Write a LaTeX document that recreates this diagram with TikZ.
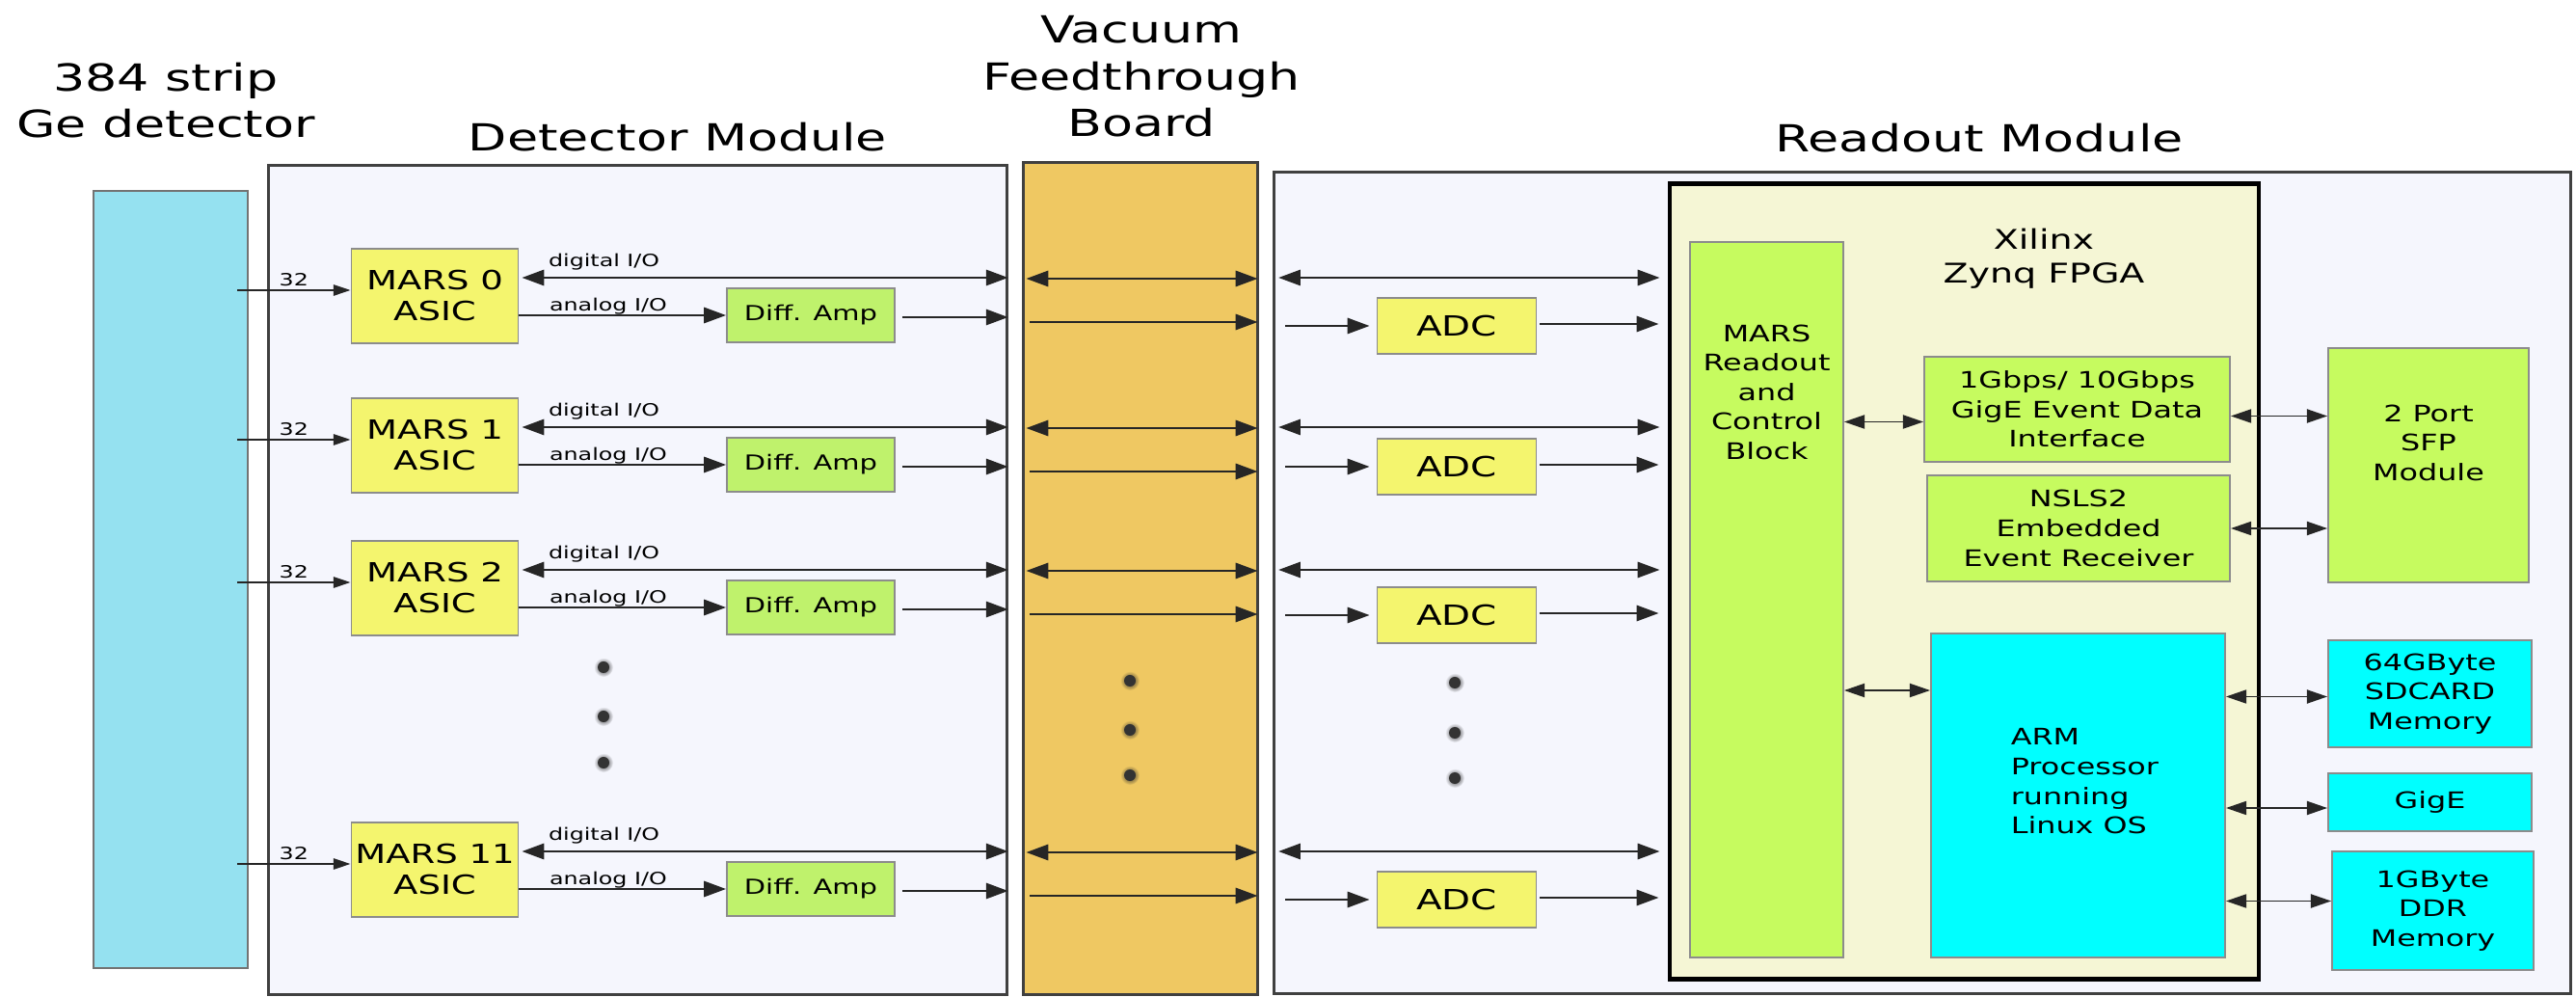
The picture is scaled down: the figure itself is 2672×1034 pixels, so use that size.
\documentclass[tikz,border=0pt]{standalone}
\usepackage{fontspec}
\setmainfont{DejaVu Sans}[FakeStretch=1.35]
\usetikzlibrary{arrows.meta,calc,positioning}

\definecolor{gecyan}{HTML}{95E1F0}
\definecolor{modbg}{HTML}{F5F6FD}
\definecolor{boardorange}{HTML}{EFC862}
\definecolor{asicyellow}{HTML}{F4F56E}
\definecolor{ampgreen}{HTML}{BFF26C}
\definecolor{fpgabg}{HTML}{F5F6D5}
\definecolor{blockgreen}{HTML}{C6FB5F}
\definecolor{armcyan}{HTML}{00FFFF}

\tikzset{
  container/.style={draw=black!75, line width=0.85pt, fill=modbg, inner sep=0pt},
  box/.style={draw=black!45, line width=0.5pt, inner sep=0pt, align=center},
  blocktext/.style={font=\fontsize{6.7}{8.7}\selectfont, align=center, inner sep=0pt},
  asic/.style={box, fill=asicyellow, minimum width=1.73cm, minimum height=0.98cm, font=\fontsize{7.8}{9.1}\selectfont},
  diffamp/.style={box, fill=ampgreen, minimum width=1.74cm, minimum height=0.56cm, font=\fontsize{6.1}{7.3}\selectfont},
  adc/.style={box, fill=asicyellow, minimum width=1.65cm, minimum height=0.58cm, font=\fontsize{8.2}{10}\selectfont},
  fpgablock/.style={box, blocktext, fill=blockgreen},
  memblock/.style={box, blocktext, fill=armcyan},
  heading/.style={font=\fontsize{11}{13.8}\selectfont, align=center, inner sep=0pt},
  iolabel/.style={font=\fontsize{5}{6}\selectfont, inner sep=0pt},
  sig/.style={draw=black!85, line width=0.7pt, -{Triangle[length=6.5pt,width=4.6pt]}},
  bidir/.style={sig, {Triangle[length=6.5pt,width=4.6pt]}-{Triangle[length=6.5pt,width=4.6pt]}},
  link/.style={draw=black!85, line width=0.5pt, {Triangle[length=6pt,width=4pt]}-{Triangle[length=6pt,width=4pt]}},
  strips/.style={draw=black!85, line width=0.45pt, -{Triangle[length=5pt,width=3.2pt]}},
}

\begin{document}
\begin{tikzpicture}[x=0.01cm, y=-0.01cm]
    \useasboundingbox (0,0) rectangle (2672,1034);

    % --- Titoli ---
    \node[heading, anchor=north] (tge) at (172,64) {384 strip\\Ge detector};
    \node[heading, anchor=north] (tdm) at (703,126) {Detector Module};
    \node[heading, anchor=north] (tvb) at (1184,16) {Vacuum\\Feedthrough\\Board};
    \node[heading, anchor=north] (trm) at (2053,127) {Readout Module};

    % --- Contenitori ---
    \node[container, fill=gecyan, draw=black!55, line width=0.6pt, minimum width=1.6cm, minimum height=8.06cm] (ge) at (177,601) {};
    \node[container, minimum width=7.65cm, minimum height=8.59cm] (dm) at (661.5,601.5) {};
    \node[container, fill=boardorange, minimum width=2.42cm, minimum height=8.62cm] (vb) at (1183,600) {};
    \node[container, minimum width=13.44cm, minimum height=8.51cm] (rm) at (1994,604.5) {};
    \node[container, fill=fpgabg, draw=black, line width=1.3pt, minimum width=6.11cm, minimum height=8.24cm] (fpga) at (2037.5,603) {};
    \node[heading, font=\fontsize{8}{10.2}\selectfont, anchor=north] (tfpga) at (2120,236) {Xilinx\\Zynq FPGA};

    % --- Blocchi FPGA ---
    \node[fpgablock, minimum width=1.59cm, minimum height=7.42cm,
          label={[blocktext, anchor=north, yshift=-0.86cm]north:{MARS\\Readout\\and\\Control\\Block}}] (mrc) at (1832.5,622) {};
    \node[fpgablock, minimum width=3.17cm, minimum height=1.09cm] (gif) at (2154.5,424.5) {1Gbps/ 10Gbps\\GigE Event Data\\Interface};
    \node[fpgablock, minimum width=3.14cm, minimum height=1.10cm] (evr) at (2156,548) {NSLS2\\Embedded\\Event Receiver};
    \node[memblock, minimum width=3.05cm, minimum height=3.36cm,
          label={[blocktext, align=left, anchor=north west, xshift=0.83cm, yshift=-0.99cm]north west:{ARM\\Processor\\running\\Linux OS}}] (arm) at (2155.5,825) {};

    % --- Periferiche ---
    \node[fpgablock, minimum width=2.08cm, minimum height=2.43cm,
          label={[blocktext, anchor=north, yshift=-0.59cm]north:{2 Port\\SFP\\Module}}] (sfp) at (2519,482.5) {};
    \node[memblock, minimum width=2.11cm, minimum height=1.11cm] (sd) at (2520.5,719.5) {64GByte\\SDCARD\\Memory};
    \node[memblock, minimum width=2.11cm, minimum height=0.60cm] (gige) at (2520.5,832) {GigE};
    \node[memblock, minimum width=2.09cm, minimum height=1.23cm] (ddr) at (2523.5,944.5) {1GByte\\DDR\\Memory};

    % --- Canali MARS ---
    \foreach \n/\ya/\yb in {0/307/338, 1/462/484, 2/610/638, 11/902/933} {
        \node[asic] (m\n) at (451,\ya) {MARS \n\\ASIC};
        \node[diffamp] (d\n) at (841,\ya+20) {Diff. Amp};
        \node[adc] (a\n) at (1511,\yb) {ADC};

        \draw[strips] ($(m\n.west -| ge.east)+(-12,-6)$) -- node[iolabel, above=1pt] (s\n) {32} ($(m\n.west)+(0,-6)$);

        \draw[bidir] ($(m\n.east)+(3,-19)$) -- ($(m\n.east -| dm.east)+(0,-19)$);
        \node[iolabel, anchor=base west] (dl\n) at ($(m\n.east)+(30,-30)$) {digital I/O};
        \draw[sig] (m\n.east |- d\n.west) -- (d\n.west);
        \node[iolabel, anchor=base west] (al\n) at ($(m\n.east)+(31,16)$) {analog I/O};
        \draw[sig] ($(d\n.east)+(7,2)$) -- ($(d\n.east -| dm.east)+(0,2)$);

        \draw[bidir] ($(m\n.east -| vb.west)+(4,-18)$) -- ($(m\n.east -| vb.east)+(-1,-18)$);
        \draw[sig] ($(d\n.east -| vb.west)+(8,7)$) -- ($(d\n.east -| vb.east)+(-1,7)$);

        \draw[bidir] ($(m\n.east -| rm.west)+(6,-19)$) -- ($(m\n.east -| fpga.west)+(-8,-19)$);
        \draw[sig] ($(a\n.west -| rm.west)+(13,0)$) -- ($(a\n.west)+(-7,0)$);
        \draw[sig] ($(a\n.east)+(3,-2)$) -- ($(a\n.east -| fpga.west)+(-9,-2)$);
    }

    % puntini
    \foreach \x/\y/\c in {626/692/modbg, 626/743/modbg, 626/791/modbg,
                          1172/706/boardorange, 1172/757/boardorange, 1172/804/boardorange,
                          1509/708/modbg, 1509/760/modbg, 1509/807/modbg} {
        \shade[inner color=black!85, outer color=\c] (\x,\y) circle (0.1cm);
        \fill[black!80] (\x,\y) circle (0.06cm);
    }

    % --- Collegamenti FPGA ---
    \draw[link] ($(mrc.east |- gif.west)+(0,13)$) -- ($(gif.west)+(0,13)$);
    \draw[link] ($(mrc.east |- arm.west)+(0,-109)$) -- ($(arm.west)+(0,-109)$);
    \draw[link] ($(gif.east)+(0,7)$) -- ($(gif.east -| sfp.west)+(0,7)$);
    \draw[link] (evr.east) -- (evr.east -| sfp.west);
    \draw[link] ($(arm.east |- sd.west)+(0,3)$) -- ($(sd.west)+(0,3)$);
    \draw[link] ($(arm.east |- gige.west)+(0,6)$) -- ($(gige.west)+(0,6)$);
    \draw[link] ($(arm.east |- ddr.west)+(0,-10)$) -- ($(ddr.west)+(0,-10)$);
\end{tikzpicture}
\end{document}
